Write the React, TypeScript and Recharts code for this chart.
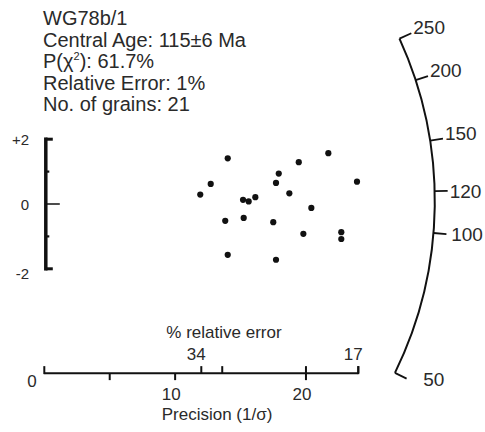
import { Customized, Scatter, ScatterChart, XAxis, YAxis } from "recharts";

// single-grain ages, radial plot coordinates
const precision = [
  14.02, 21.71, 19.45, 17.92, 17.71, 23.9, 12.72, 11.92, 18.73, 15.19, 15.62,
  16.13, 20.41, 13.83, 15.24, 17.5, 19.8, 22.7, 22.7, 14.02, 17.71,
];
const zScore = [
  1.41, 1.57, 1.29, 0.94, 0.65, 0.69, 0.62, 0.29, 0.33, 0.13, 0.08,
  0.21, -0.12, -0.52, -0.43, -0.56, -0.92, -0.87, -1.08, -1.57, -1.72,
];
const grains = precision.map((p, i) => ({ p, z: zScore[i] }));

const header = ["WG78b/1", "Central Age: 115±6 Ma", "Relative Error: 1%", "No. of grains: 21"];
const pChi = "61.7%";
const CENTRAL_AGE = 115;

const ageTicks = [250, 200, 150, 120, 100, 50];
const zTicks = [2, 1, 0, -1, -2];
const zLabels = [2, 0, -2];
const precisionTicks = [5, 10, 20];
const precisionLabels = [10, 20];
const relErrTicks = [34, 30, 17];
const relErrLabels = [34, 17];
const PRECISION_MAX = 24;

const W = 485;
const H = 432;
const MARGIN = { top: 9.6, right: 8.95, bottom: 1.2, left: 44.3 };
const X_DOMAIN: [number, number] = [0, 33];
const Y_DOMAIN: [number, number] = [-7, 6];

const FONT = "'Liberation Sans', Arial, Helvetica, sans-serif";
const INK = "#111";
const TEXT = "#2a2a2a";

// same linear maps the hidden axes use
const xPx = (p: number) =>
  MARGIN.left + ((p - X_DOMAIN[0]) / (X_DOMAIN[1] - X_DOMAIN[0])) * (W - MARGIN.left - MARGIN.right);
const yPx = (z: number) =>
  MARGIN.top + ((Y_DOMAIN[1] - z) / (Y_DOMAIN[1] - Y_DOMAIN[0])) * (H - MARGIN.top - MARGIN.bottom);

// % relative error -> precision
const relErrToPrecision = (e: number) => 408 / e;

const ARC_R = 390.5;
const ARC_SLOPE = 0.5885;
const TICK = 13;

function RadialFrame() {
  const ox = xPx(0);
  const cy = yPx(0) - 3;
  const phi = (t: number) => Math.atan(ARC_SLOPE * Math.log(t / CENTRAL_AGE));
  const onArc = (a: number, r: number) => [ox + r * Math.cos(a), cy - r * Math.sin(a)];

  const aTop = phi(ageTicks[0]);
  const aBot = phi(ageTicks[ageTicks.length - 1]);
  const [sx, sy] = onArc(aTop, ARC_R);
  const [ex, ey] = onArc(aBot, ARC_R);

  const barX = ox + 1.5;
  const axisY = yPx(-5.22);

  return (
    <g fontFamily={FONT} fill={TEXT}>
      {/* header block */}
      <text x={43} y={25} fontSize={20}>{header[0]}</text>
      <text x={43} y={46.6} fontSize={20}>{header[1]}</text>
      <text x={43} y={68.2} fontSize={20}>
        P(χ<tspan dy={-8} fontSize={11}>2</tspan>
        <tspan dy={8}>): {pChi}</tspan>
      </text>
      <text x={43} y={89.8} fontSize={20}>{header[2]}</text>
      <text x={43} y={111.4} fontSize={20}>{header[3]}</text>

      {/* standardised estimate scale */}
      <line x1={barX} x2={barX} y1={yPx(2)} y2={yPx(-2)} stroke={INK} strokeWidth={3.5} strokeLinecap="square" />
      {zTicks.map((z) => {
        const len = Math.abs(z) === 2 ? 7 : z === 0 ? 14 : 3.5;
        const sw = Math.abs(z) === 2 ? 3 : z === 0 ? 1.5 : 2.2;
        return <line key={z} x1={barX} x2={barX + len} y1={yPx(z)} y2={yPx(z)} stroke={INK} strokeWidth={sw} />;
      })}
      {zLabels.map((z) => (
        <text key={z} x={29} y={yPx(z) + (z < 0 ? 10 : 6)} fontSize={15} textAnchor="end">
          {z > 0 ? `+${z}` : `${z}`}
        </text>
      ))}

      {/* age arc */}
      <path
        d={`M ${sx} ${sy} A ${ARC_R} ${ARC_R} 0 0 1 ${ex} ${ey}`}
        fill="none"
        stroke={INK}
        strokeWidth={2}
      />
      {ageTicks.map((t) => {
        const a = phi(t);
        const [x1, y1] = onArc(a, ARC_R);
        const [x2, y2] = onArc(a, ARC_R + TICK);
        const dx = 2 + Math.max(0, -Math.sin(a)) * 33;
        const dy = a > 0.09 ? 1 : 7;
        return (
          <g key={t}>
            <line x1={x1} y1={y1} x2={x2} y2={y2} stroke={INK} strokeWidth={1.8} />
            <text x={x2 + dx} y={y2 + dy} fontSize={19}>{t}</text>
          </g>
        );
      })}

      {/* precision axis */}
      <line x1={xPx(0)} x2={xPx(PRECISION_MAX)} y1={axisY} y2={axisY} stroke={INK} strokeWidth={2} />
      {[0, PRECISION_MAX].map((p) => (
        <line key={p} x1={xPx(p)} x2={xPx(p)} y1={axisY + 1} y2={axisY - 7} stroke={INK} strokeWidth={2} />
      ))}
      {precisionTicks.map((p) => (
        <line
          key={p}
          x1={xPx(p)}
          x2={xPx(p)}
          y1={p === 20 ? axisY - 7 : axisY}
          y2={axisY + 7}
          stroke={INK}
          strokeWidth={2}
        />
      ))}
      {relErrTicks.map((e) => (
        <line
          key={e}
          x1={xPx(relErrToPrecision(e))}
          x2={xPx(relErrToPrecision(e))}
          y1={axisY}
          y2={axisY - 7}
          stroke={INK}
          strokeWidth={2}
        />
      ))}
      <text x={32} y={axisY + 14} fontSize={17} textAnchor="middle">0</text>
      {precisionLabels.map((p) => (
        <text key={p} x={xPx(p) - 4} y={axisY + 27} fontSize={17} textAnchor="middle">{p}</text>
      ))}
      <text x={217} y={axisY + 47} fontSize={17} textAnchor="middle">Precision (1/σ)</text>
      <text x={224} y={axisY - 35} fontSize={17} textAnchor="middle">% relative error</text>
      {relErrLabels.map((e) => (
        <text key={e} x={xPx(relErrToPrecision(e)) - 5} y={axisY - 13} fontSize={17} textAnchor="middle">{e}</text>
      ))}
    </g>
  );
}

export default function App() {
  return (
    <div style={{ width: W, height: H, background: "#fff" }}>
      <style>{"body{margin:0}"}</style>
      <ScatterChart width={W} height={H} margin={MARGIN}>
        <XAxis type="number" dataKey="p" domain={X_DOMAIN} hide />
        <YAxis type="number" dataKey="z" domain={Y_DOMAIN} hide />
        <Customized component={<RadialFrame />} />
        <Scatter
          data={grains}
          isAnimationActive={false}
          shape={(props: any) => <circle cx={props.cx} cy={props.cy} r={3.1} fill={INK} />}
        />
      </ScatterChart>
    </div>
  );
}
